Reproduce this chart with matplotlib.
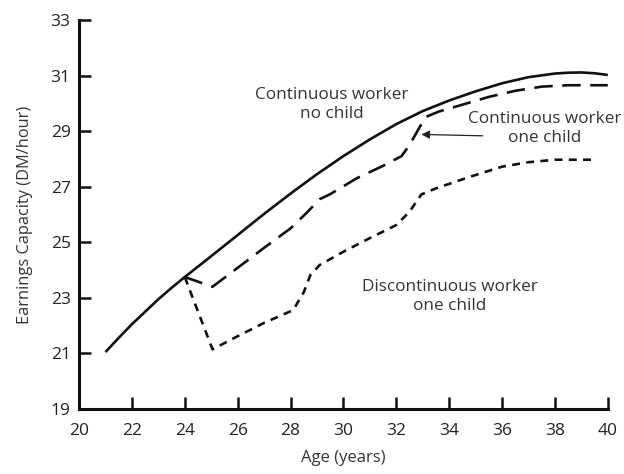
import matplotlib.pyplot as plt

plt.rcParams['font.family'] = ['Open Sans', 'DejaVu Sans']

# ---------------------------
# data
# ---------------------------
age_nochild = [21, 21.5, 22, 22.5, 23, 23.5, 24, 25, 26, 27, 28, 29, 30, 31, 32, 33, 34,
               35, 36, 37, 38, 38.5, 39, 39.5, 40]
earn_nochild = [21.05, 21.56, 22.05, 22.5, 22.95, 23.36, 23.75, 24.5, 25.26, 26.02, 26.75,
                27.45, 28.1, 28.7, 29.25, 29.72, 30.1, 30.43, 30.72, 30.94, 31.07, 31.1,
                31.11, 31.08, 31.02]

age_cont_child = [24, 25.05, 26, 27, 28, 28.6, 29.1, 29.5, 30.5, 31.5, 32.2, 32.5, 33.1,
                  33.6, 34.5, 35.5, 36.5, 37.5, 38.5, 40]
earn_cont_child = [23.75, 23.4, 24.08, 24.8, 25.5, 26.05, 26.55, 26.73, 27.3, 27.75, 28.1,
                   28.5, 29.5, 29.7, 29.95, 30.23, 30.45, 30.6, 30.65, 30.65]

age_discont = [24, 25.05, 26, 27, 28.1, 28.5, 28.75, 29.1, 30, 31, 32, 32.5, 32.95, 33.5,
               34.8, 36, 37, 38, 39.6]
earn_discont = [23.75, 21.15, 21.62, 22.1, 22.56, 23.2, 23.82, 24.18, 24.66, 25.15, 25.62,
                26.1, 26.72, 26.94, 27.36, 27.72, 27.88, 27.97, 27.97]

x_ticks = [20, 22, 24, 26, 28, 30, 32, 34, 36, 38, 40]
y_ticks = [19, 21, 23, 25, 27, 29, 31, 33]

# ---------------------------
# plot
# ---------------------------
fig = plt.figure(figsize=(6.24, 4.74), dpi=100)
ax = fig.add_axes([0.1266, 0.137, 0.8474, 0.821])

ax.plot(age_nochild, earn_nochild, color="#111111", lw=1.9, solid_capstyle="butt")
ax.plot(age_cont_child, earn_cont_child, color="#111111", lw=1.9,
        dashes=(7, 3.6), dash_capstyle="butt")
ax.plot(age_discont, earn_discont, color="#111111", lw=1.9,
        dashes=(3, 2.4), dash_capstyle="butt")

ax.set_xlim(20, 40)
ax.set_ylim(19, 33)
ax.set_xticks(x_ticks)
ax.set_yticks(y_ticks)

for side in ["top", "right"]:
    ax.spines[side].set_visible(False)
for side in ["left", "bottom"]:
    ax.spines[side].set_linewidth(2.2)
    ax.spines[side].set_color("#111111")

ax.tick_params(direction="in", length=8.5, width=1.8, color="#111111",
               labelsize=12.5, labelcolor="#222222")
ax.tick_params(axis="y", pad=6)
ax.tick_params(axis="x", pad=10)

ax.set_xlabel("Age (years)", fontsize=12, color="#333333", labelpad=8)
ax.set_ylabel("Earnings Capacity (DM/hour)", fontsize=11.8, color="#333333", labelpad=13)

txt = dict(fontsize=12.3, color="#333333", ha="center", va="center", linespacing=1.25)
ax.text(29.57, 29.94, "Continuous worker\nno child", **txt)
ax.text(37.6, 29.1, "Continuous worker\none child", **txt)
ax.text(34.02, 23.04, "Discontinuous worker\none child", **txt)

ax.annotate("", xy=(32.95, 28.88), xytext=(35.27, 28.83),
            arrowprops=dict(arrowstyle="-|>", color="#222222", lw=0.9,
                            mutation_scale=12, shrinkA=0, shrinkB=0))

fig.savefig("out.png", dpi=100)
